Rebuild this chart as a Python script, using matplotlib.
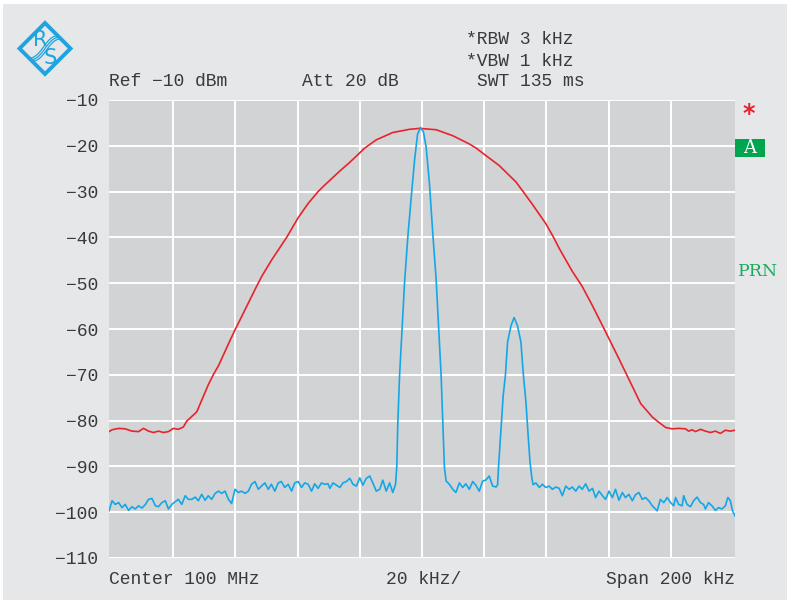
import matplotlib
matplotlib.use("Agg")
import matplotlib.pyplot as plt
from matplotlib.patches import Polygon, Rectangle
import numpy as np

# ---------------- data ----------------
red_khz = [-100.6, -99.6, -97.5, -95.4, -93.2, -91.1, -89.5, -87.9, -86.3, -84.7,
           -83.1, -81.5, -79.9, -78.3, -76.7, -75.6, -72.4, -68.7, -67.1, -65.4,
           -61.7, -60.1, -57.9, -54.7, -52.8, -51.5, -48.3, -43.5, -39.8, -36.6,
           -33.4, -31.3, -26.4, -23.2, -18.4, -14.7, -9.4, -4.0, -0.8, 4.6,
           9.9, 15.2, 17.4, 19.5, 24.8, 30.2, 32.5, 35.5, 39.8, 42.3,
           44.1, 48.3, 51.4, 54.7, 58.7, 63.3, 65.8, 70.3, 74.0, 75.4,
           78.3, 80.4, 82.5, 84.7, 85.7, 86.8, 87.9, 89.5, 91.1, 92.7,
           94.3, 95.9, 97.5, 99.1, 100.6]
red_dbm = [-82.4, -82.0, -81.7, -81.8, -82.3, -82.4, -81.7, -82.3, -82.6, -82.3,
           -82.6, -82.4, -81.7, -81.9, -81.4, -80.1, -78.1, -72.2, -70.0, -68.0,
           -62.5, -60.2, -57.2, -52.8, -50.2, -48.5, -44.9, -40.0, -35.7, -32.6,
           -30.0, -28.6, -25.5, -23.6, -20.5, -18.7, -17.1, -16.4, -16.2, -16.5,
           -17.8, -19.6, -20.5, -21.6, -24.3, -27.9, -30.0, -32.8, -37.0, -40.0,
           -42.4, -47.4, -50.6, -54.8, -60.2, -66.5, -70.0, -76.3, -79.2, -80.0,
           -81.5, -81.8, -81.7, -81.8, -82.3, -82.0, -82.4, -81.9, -82.3, -82.6,
           -82.3, -82.8, -82.1, -82.3, -82.1]

blue_khz = [-100.6, -99.6, -98.6, -97.5, -96.4, -95.4, -94.3, -93.2, -92.2, -91.1,
            -90.0, -88.9, -87.9, -86.8, -85.7, -84.7, -83.6, -82.5, -81.5, -80.4,
            -79.3, -78.3, -77.2, -76.1, -75.1, -74.0, -72.9, -71.9, -70.8, -69.7,
            -68.7, -67.6, -66.5, -65.4, -64.4, -63.3, -62.2, -61.2, -60.1, -59.0,
            -58.0, -56.9, -55.8, -54.8, -53.7, -52.6, -51.6, -50.5, -49.4, -48.4,
            -47.3, -46.2, -45.2, -44.1, -43.0, -41.9, -40.9, -39.8, -38.7, -37.7,
            -36.6, -35.5, -34.5, -33.4, -32.3, -31.3, -30.2, -29.6, -28.6, -27.5,
            -26.4, -25.4, -24.3, -23.2, -22.2, -21.1, -20.0, -19.0, -17.9, -16.8,
            -15.8, -14.7, -13.6, -12.6, -11.5, -10.4, -9.4, -8.5,
            -8.1, -7.76, -7.21, -6.35, -5.61, -4.55, -3.46, -2.40, -1.44, -0.48,
            0.48, 1.35, 2.40, 3.46, 4.55, 5.38, 6.15, 6.67, 7.21, 7.76,
            8.8, 9.9, 10.9, 12.0, 13.1, 14.1, 15.2, 16.3, 17.3, 18.4,
            19.5, 20.5, 21.6, 22.7, 23.8,
            24.3, 24.6, 25.4, 26.1, 26.8, 27.5, 28.6, 29.6, 30.7, 31.8,
            32.5, 33.4, 34.1, 34.7, 35.3, 35.7,
            36.6, 37.7, 38.7, 39.8, 40.9, 41.9, 43.0, 44.1, 45.1, 46.2,
            47.3, 48.3, 49.4, 50.5, 51.5, 52.6, 53.7, 54.8, 55.8, 56.9,
            58.0, 59.0, 60.1, 61.2, 62.2, 63.3, 64.4, 65.4, 66.5, 67.6,
            68.6, 69.7, 70.8, 71.8, 72.9, 74.0, 75.6, 76.6, 77.7, 78.8,
            79.9, 80.9, 81.5, 82.5, 83.6, 84.1, 85.2, 86.3, 87.3, 88.4,
            89.5, 90.5, 91.1, 92.1, 93.2, 94.3, 95.3, 96.4, 97.5, 98.3,
            99.1, 99.8, 100.6]
blue_dbm = [-99.7, -97.5, -98.3, -97.9, -99.0, -98.3, -99.6, -98.8, -99.3, -98.6,
            -99.1, -98.3, -97.2, -97.0, -98.6, -98.8, -97.9, -97.5, -99.3, -98.3,
            -97.7, -97.2, -98.3, -96.4, -97.2, -97.2, -96.7, -97.5, -96.1, -97.4,
            -96.4, -97.2, -95.9, -95.4, -95.9, -95.4, -97.2, -98.1, -95.0, -95.7,
            -95.4, -95.9, -95.4, -93.9, -93.3, -95.0, -94.3, -93.6, -95.0, -93.9,
            -95.4, -93.6, -93.3, -94.6, -93.9, -95.4, -93.6, -93.3, -94.6, -93.6,
            -93.9, -95.4, -93.8, -94.8, -93.6, -93.9, -93.8, -94.8, -93.6, -94.1,
            -94.6, -93.6, -93.3, -92.6, -93.9, -94.3, -92.5, -94.1, -92.6, -92.1,
            -93.6, -95.4, -95.0, -93.0, -95.4, -93.6, -95.7, -93.9,
            -90.0, -80.2, -70.2, -59.3, -49.9, -39.8, -31.2, -23.2, -17.5, -16.0,
            -17.0, -20.4, -28.3, -39.1, -49.2, -60.0, -70.2, -80.2, -90.3, -93.2,
            -93.9, -95.0, -95.7, -93.6, -94.6, -93.8, -95.0, -93.3, -94.1, -95.4,
            -93.2, -93.0, -92.1, -94.3, -94.5,
            -94.0, -90.0, -81.7, -74.5, -70.2, -62.9, -59.3, -57.5, -59.3, -62.9,
            -69.4, -75.9, -83.1, -88.9, -92.5, -94.0,
            -93.6, -94.6, -93.9, -94.6, -94.3, -95.0, -94.5, -94.8, -96.4, -94.3,
            -95.0, -94.5, -95.4, -94.3, -95.0, -93.8, -95.4, -94.8, -96.8, -95.4,
            -96.4, -97.2, -95.4, -96.8, -95.0, -97.4, -95.7, -96.8, -96.1, -97.5,
            -96.2, -95.7, -97.2, -96.8, -97.5, -98.6, -99.7, -97.2, -97.9, -96.8,
            -97.9, -98.6, -96.8, -98.3, -98.6, -96.4, -98.3, -98.8, -97.5, -96.7,
            -97.9, -98.3, -99.3, -97.9, -98.6, -99.6, -99.0, -99.3, -98.6, -96.8,
            -97.5, -99.7, -100.8]

y_ticks = [-10, -20, -30, -40, -50, -60, -70, -80, -90, -100, -110]
x_grid = [-80, -60, -40, -20, 0, 20, 40, 60, 80]

# ---------------- figure ----------------
W, H = 790, 604
fig = plt.figure(figsize=(W / 100, H / 100), dpi=100)
fig.patch.set_facecolor("white")

def fx(px):
    return px / W

def fy(py):
    return 1 - py / H

panel = Rectangle((fx(3), fy(600)), fx(787) - fx(3), fy(4) - fy(600),
                  transform=fig.transFigure, facecolor="#e6e7e8", edgecolor="none", zorder=-10)
fig.patches.append(panel)

ax = fig.add_axes([fx(109), fy(558), fx(735) - fx(109), fy(100) - fy(558)])
ax.set_facecolor("#d2d3d5")
ax.set_xlim(-100.6, 100.6)
ax.set_ylim(-110, -10)
for s in ax.spines.values():
    s.set_visible(False)
ax.set_xticks(x_grid)
ax.set_yticks(y_ticks)
ax.grid(True, color="white", linewidth=1.4)
ax.set_axisbelow(True)
ax.tick_params(axis="both", length=0)
ax.set_xticklabels([])
mono = "Liberation Mono"
txt = "#3a3a3a"
ax.set_yticklabels(["\u2212%d" % abs(v) for v in y_ticks], fontfamily=mono,
                   fontsize=13, color=txt)
ax.tick_params(axis="y", pad=8)

ax.plot(red_khz, red_dbm, color="#e8232c", linewidth=1.2, zorder=3)
ax.plot(blue_khz, blue_dbm, color="#13a7e6", linewidth=1.2, zorder=4)

# header texts
fig.text(fx(109), fy(82), "Ref \u221210 dBm", fontfamily=mono, fontsize=13, color=txt, va="center")
fig.text(fx(302), fy(82), "Att 20 dB", fontfamily=mono, fontsize=13, color=txt, va="center")
fig.text(fx(466), fy(39), "*RBW 3 kHz", fontfamily=mono, fontsize=13, color=txt, va="center")
fig.text(fx(466), fy(61), "*VBW 1 kHz", fontfamily=mono, fontsize=13, color=txt, va="center")
fig.text(fx(477), fy(82), "SWT 135 ms", fontfamily=mono, fontsize=13, color=txt, va="center")

# footer texts
fig.text(fx(109), fy(580), "Center 100 MHz", fontfamily=mono, fontsize=13, color=txt, va="center")
fig.text(fx(424), fy(580), "20 kHz/", fontfamily=mono, fontsize=13, color=txt, va="center", ha="center")
fig.text(fx(735), fy(580), "Span 200 kHz", fontfamily=mono, fontsize=13, color=txt, va="center", ha="right")

# right side annotations
fig.text(fx(749), fy(114), "*", fontfamily="DejaVu Sans", fontsize=17, color="#e8232c",
         va="center", ha="center", fontweight="bold")
box = Rectangle((fx(735), fy(157)), fx(765) - fx(735), fy(139) - fy(157),
                transform=fig.transFigure, facecolor="#00a550", edgecolor="none")
fig.patches.append(box)
fig.text(fx(750), fy(148), "A", fontfamily="DejaVu Serif", fontsize=13, color="white",
         va="center", ha="center")
fig.text(fx(738), fy(271), "PRN", fontfamily="DejaVu Serif", fontsize=12.5, color="#1aab5c",
         va="center", ha="left")

# logo (R&S diamond)
logo_blue = "#1ea4e0"
cx, cy, r = 45, 48.5, 25.5
dia = Polygon([(fx(cx - r), fy(cy)), (fx(cx), fy(cy - r)), (fx(cx + r), fy(cy)), (fx(cx), fy(cy + r))],
              closed=True, transform=fig.transFigure, facecolor="none",
              edgecolor=logo_blue, linewidth=2.8, joinstyle="miter")
fig.patches.append(dia)
fig.text(fx(40), fy(39.5), "R", fontfamily="DejaVu Sans", fontsize=15, color=logo_blue,
         va="center", ha="center")
fig.text(fx(50.5), fy(58), "S", fontfamily="DejaVu Sans", fontsize=15, color=logo_blue,
         va="center", ha="center")
t = np.linspace(0, 1, 30)
for off in (-2.2, 0, 2.2):
    xs = 31 + 28 * t + off * 0.7
    ys = 60 - 23 * t + 2.5 * np.sin(t * 2 * np.pi) + off * 0.7
    fig.add_artist(plt.Line2D(xs / W, 1 - ys / H, color=logo_blue, linewidth=0.9,
                              transform=fig.transFigure))

fig.savefig("out.png", dpi=100, facecolor=fig.get_facecolor())
